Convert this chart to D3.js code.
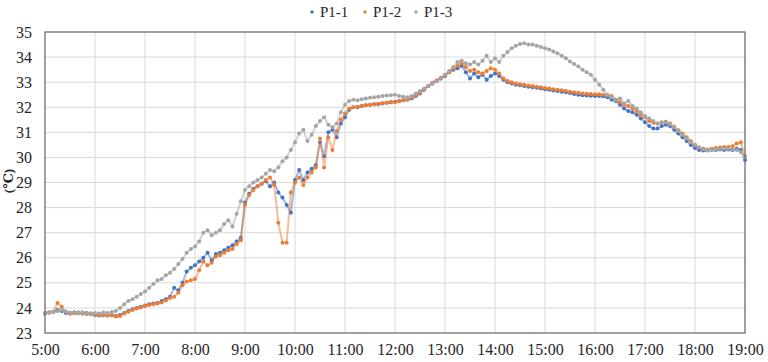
<!DOCTYPE html>
<html>
<head>
<meta charset="utf-8">
<script src="https://cdn.jsdelivr.net/npm/d3@7"></script>
<style>
	body { margin: 0; background: #fff; }
	svg { display: block; font-family: "Liberation Serif", "Tinos", "DejaVu Serif", serif; }
	.tick-label { font-size: 16px; fill: #262626; font-family: "Liberation Serif", "Tinos", "DejaVu Serif", serif; }
	.legend-label { font-size: 15px; fill: #262626; }
	.grid line { stroke: #d9d9d9; stroke-width: 1; }
</style>
</head>
<body>
<svg id="chart" width="768" height="362"></svg>
<script>
// readings every 5 minutes, 5:00 -> 19:00
var startHour = 5;
var endHour = 19;
var stepMin = 5;

var seriesNames = ["P1-1", "P1-2", "P1-3"];
var seriesColors = ["#4472C4", "#ED7D31", "#A5A5A5"];

var hourTicks = ["5:00", "6:00", "7:00", "8:00", "9:00", "10:00", "11:00", "12:00",
				 "13:00", "14:00", "15:00", "16:00", "17:00", "18:00", "19:00"];
var tempTicks = [23, 24, 25, 26, 27, 28, 29, 30, 31, 32, 33, 34, 35];

var p11 = [
	23.78, 23.82, 23.85, 23.92, 23.88, 23.80, 23.78, 23.80, 23.82, 23.78, 23.80, 23.76,
	23.72, 23.70, 23.72, 23.70, 23.72, 23.68, 23.72, 23.80, 23.88, 23.95, 24.00, 24.05,
	24.10, 24.15, 24.18, 24.20, 24.28, 24.35, 24.45, 24.80, 24.70, 25.00, 25.45, 25.60,
	25.70, 25.85, 26.00, 26.20, 25.90, 26.15, 26.20, 26.30, 26.40, 26.50, 26.65, 26.80,
	28.20, 28.55, 28.75, 28.85, 28.95, 29.05, 28.85, 29.00, 28.60, 28.40, 28.10, 27.80,
	29.10, 29.50, 29.10, 29.40, 29.55, 29.70, 30.60, 30.05, 31.00, 31.10, 30.80, 31.35,
	31.60, 31.90, 32.00, 32.00, 32.05, 32.08, 32.10, 32.12, 32.12, 32.15, 32.18, 32.20,
	32.22, 32.25, 32.28, 32.30, 32.35, 32.45, 32.55, 32.70, 32.85, 32.95, 33.05, 33.15,
	33.25, 33.40, 33.50, 33.55, 33.65, 33.40, 33.15, 33.35, 33.20, 33.30, 33.10, 33.25,
	33.35, 33.25, 33.10, 33.00, 32.95, 32.90, 32.88, 32.85, 32.82, 32.80, 32.78, 32.75,
	32.72, 32.70, 32.67, 32.65, 32.62, 32.60, 32.57, 32.53, 32.50, 32.48, 32.47, 32.46,
	32.45, 32.45, 32.44, 32.40, 32.30, 32.25, 32.10, 31.95, 31.85, 31.80, 31.70, 31.55,
	31.40, 31.25, 31.15, 31.15, 31.25, 31.30, 31.25, 31.10, 30.95, 30.80, 30.65, 30.50,
	30.38, 30.30, 30.28, 30.28, 30.30, 30.30, 30.32, 30.30, 30.32, 30.30, 30.35, 30.30,
	29.90
];

var p12 = [
	23.80, 23.82, 23.85, 24.20, 24.05, 23.85, 23.78, 23.80, 23.78, 23.80, 23.76, 23.78,
	23.74, 23.72, 23.70, 23.72, 23.70, 23.66, 23.68, 23.78, 23.85, 23.92, 23.98, 24.02,
	24.08, 24.12, 24.15, 24.18, 24.22, 24.30, 24.40, 24.45, 24.60, 24.90, 25.05, 25.10,
	25.15, 25.50, 25.85, 25.70, 25.80, 26.05, 26.10, 26.20, 26.30, 26.35, 26.55, 26.70,
	28.10, 28.50, 28.70, 28.85, 28.95, 29.10, 29.20, 28.90, 27.40, 26.60, 26.60, 28.60,
	29.00, 29.20, 28.90, 29.20, 29.40, 29.60, 30.75, 29.60, 30.80, 30.30, 31.05, 31.50,
	31.75, 31.95, 32.00, 32.02, 32.05, 32.08, 32.10, 32.12, 32.14, 32.16, 32.18, 32.20,
	32.20, 32.24, 32.28, 32.32, 32.38, 32.48, 32.58, 32.72, 32.85, 32.98, 33.08, 33.18,
	33.28, 33.40, 33.55, 33.65, 33.75, 33.60, 33.45, 33.50, 33.40, 33.35, 33.45, 33.55,
	33.50, 33.35, 33.15, 33.05, 33.00, 32.95, 32.92, 32.90, 32.87, 32.85, 32.82, 32.80,
	32.77, 32.75, 32.72, 32.70, 32.68, 32.65, 32.62, 32.60, 32.58, 32.55, 32.54, 32.53,
	32.52, 32.52, 32.50, 32.48, 32.45, 32.30, 32.20, 32.10, 32.05, 31.95, 31.85, 31.70,
	31.60, 31.45, 31.38, 31.35, 31.40, 31.42, 31.35, 31.22, 31.08, 30.95, 30.80, 30.65,
	30.50, 30.40, 30.35, 30.32, 30.35, 30.38, 30.40, 30.42, 30.42, 30.45, 30.55, 30.60,
	30.05
];

var p13 = [
	23.78, 23.82, 23.84, 23.88, 23.92, 23.86, 23.82, 23.84, 23.80, 23.83, 23.81, 23.78,
	23.80, 23.78, 23.82, 23.80, 23.84, 23.88, 24.00, 24.15, 24.28, 24.35, 24.45, 24.55,
	24.65, 24.80, 24.95, 25.10, 25.15, 25.30, 25.40, 25.55, 25.75, 25.95, 26.20, 26.35,
	26.45, 26.65, 27.00, 27.10, 26.90, 27.00, 27.10, 27.35, 27.50, 27.25, 27.75, 28.25,
	28.70, 28.85, 29.00, 29.10, 29.20, 29.35, 29.50, 29.45, 29.60, 29.85, 30.00, 30.30,
	30.60, 30.95, 31.10, 30.65, 30.90, 31.25, 31.45, 31.60, 31.30, 31.20, 31.35, 31.80,
	32.10, 32.25, 32.30, 32.28, 32.32, 32.35, 32.38, 32.40, 32.42, 32.45, 32.47, 32.48,
	32.50, 32.45, 32.42, 32.40, 32.45, 32.55, 32.65, 32.75, 32.85, 32.95, 33.05, 33.15,
	33.30, 33.45, 33.60, 33.80, 33.85, 33.75, 33.70, 33.80, 33.70, 33.85, 34.05, 33.80,
	33.95, 33.80, 34.05, 34.20, 34.35, 34.45, 34.52, 34.55, 34.50, 34.50, 34.45, 34.40,
	34.35, 34.30, 34.22, 34.15, 34.05, 33.95, 33.82, 33.72, 33.62, 33.50, 33.40, 33.30,
	33.10, 32.90, 32.70, 32.50, 32.40, 32.30, 32.35, 32.15, 32.25, 32.05, 31.95, 31.80,
	31.65, 31.55, 31.45, 31.35, 31.38, 31.40, 31.32, 31.20, 31.05, 30.90, 30.75, 30.60,
	30.50, 30.40, 30.33, 30.30, 30.30, 30.32, 30.35, 30.35, 30.35, 30.33, 30.30, 30.22,
	30.00
];

var seriesValues = [p11, p12, p13];

var Chart = {
	margin : { left: 45, top: 32, right: 23, bottom: 29 },

	Build : function(id) {
		var svg = d3.select(id);
		var W = +svg.attr("width"), H = +svg.attr("height");
		var m = this.margin;
		var w = W - m.left - m.right;
		var h = H - m.top - m.bottom;

		var x = d3.scaleLinear().domain([startHour * 60, endHour * 60]).range([0, w]);
		var y = d3.scaleLinear().domain([23, 35]).range([h, 0]);

		var g = svg.append("g").attr("transform", "translate(" + m.left + "," + m.top + ")");

		// gridlines
		var hourVals = hourTicks.map(function(t) { return +t.split(":")[0] * 60; });

		g.append("g").attr("class", "grid")
		 .selectAll("line").data(tempTicks.slice(1, -1))
		 .enter().append("line")
		 .attr("x1", 0).attr("x2", w)
		 .attr("y1", d => y(d)).attr("y2", d => y(d));

		g.append("g").attr("class", "grid")
		 .selectAll("line").data(hourVals.slice(1, -1))
		 .enter().append("line")
		 .attr("y1", 0).attr("y2", h)
		 .attr("x1", d => x(d)).attr("x2", d => x(d));

		// axes (labels only, frame drawn below)
		var yAxis = g.append("g").call(d3.axisLeft(y).tickValues(tempTicks).tickSize(0).tickPadding(13));
		this.CleanAxis(yAxis);

		var xAxis = g.append("g").attr("transform", "translate(0," + h + ")")
					 .call(d3.axisBottom(x).tickValues(hourVals).tickSize(0).tickPadding(11)
					 .tickFormat((d, i) => hourTicks[i]));
		this.CleanAxis(xAxis);

		// series
		var line = d3.line()
					 .x((d, i) => x(startHour * 60 + i * stepMin))
					 .y(d => y(d));

		seriesValues.forEach(function(vals, s) {
			var sg = g.append("g").attr("class", "series");

			sg.append("path")
			  .datum(vals)
			  .attr("d", line)
			  .attr("fill", "none")
			  .attr("stroke", seriesColors[s])
			  .attr("stroke-width", 2)
			  .attr("stroke-opacity", 0.5);

			sg.selectAll("circle").data(vals)
			  .enter().append("circle")
			  .attr("cx", (d, i) => x(startHour * 60 + i * stepMin))
			  .attr("cy", d => y(d))
			  .attr("r", 2)
			  .attr("fill", seriesColors[s]);
		});

		// plot frame
		g.append("rect")
		 .attr("width", w).attr("height", h)
		 .attr("fill", "none")
		 .attr("stroke", "#6e6e6e")
		 .attr("stroke-width", 1.3);

		// y title
		svg.append("text")
		   .attr("transform", "translate(13,181) rotate(-90)")
		   .attr("text-anchor", "middle")
		   .attr("font-size", 13)
		   .attr("font-weight", "bold")
		   .attr("fill", "#262626")
		   .text("(℃)");

		this.AddLegend(svg);
	},

	CleanAxis : function(axis) {
		axis.attr("font-family", null).attr("font-size", null);
		axis.select(".domain").remove();
		axis.selectAll("text").attr("class", "tick-label").attr("fill", null);
	},

	AddLegend : function(svg) {
		var lg = svg.append("g").attr("transform", "translate(312,0)");
		var offsets = [0, 53, 104];

		seriesNames.forEach(function(name, i) {
			var item = lg.append("g").attr("transform", "translate(" + offsets[i] + ",0)");

			item.append("circle").attr("cx", 0).attr("cy", 12).attr("r", 1.7).attr("fill", seriesColors[i]);

			item.append("text")
				.attr("class", "legend-label")
				.attr("x", 8).attr("y", 17)
				.text(name);
		});
	}
};

Chart.Build("#chart");
</script>
</body>
</html>
